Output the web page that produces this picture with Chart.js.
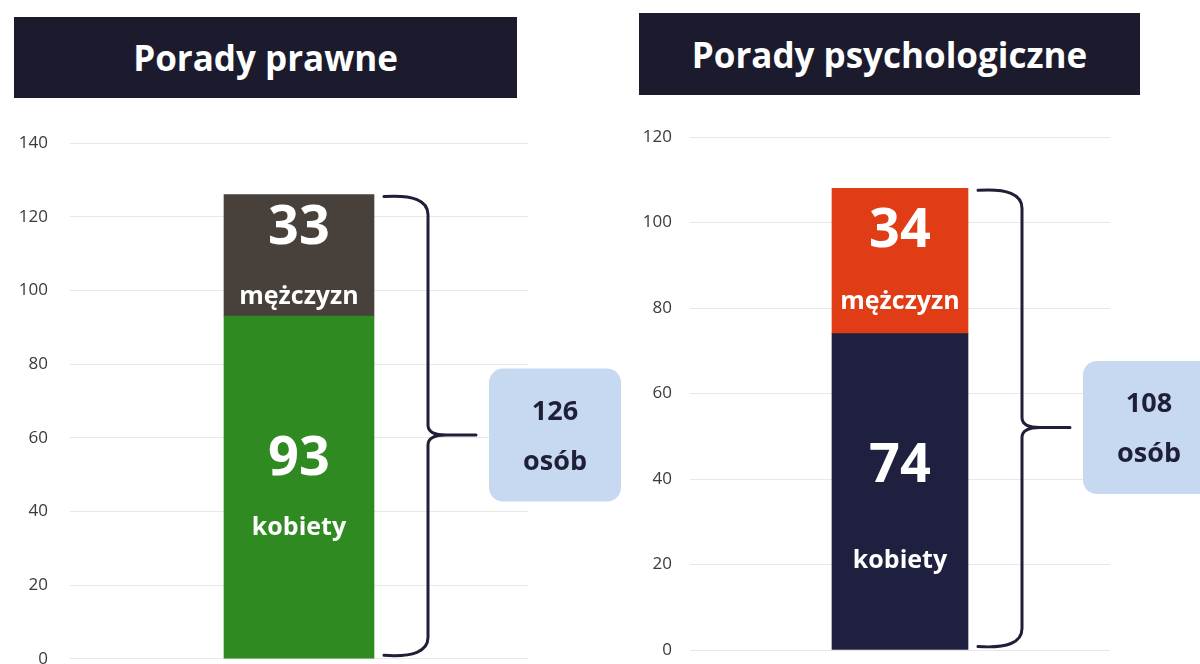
<!DOCTYPE html>
<html>
<head>
<meta charset="utf-8">
<script src="https://cdn.jsdelivr.net/npm/chart.js@4"></script>
<style>
  html, body { margin: 0; padding: 0; background: #fff; overflow: hidden; }
  body { width: 1200px; height: 664px; position: relative; font-family: "Open Sans", sans-serif; }
  .panel { position: absolute; height: 680px; }
  .naglowek {
    position: absolute; background: #1c1b2e; color: #fff;
    font-weight: bold; font-size: 35px; display: flex;
    align-items: center; justify-content: center; z-index: 2;
  }
</style>
</head>
<body>
<div class="naglowek" style="left:14px; top:17px; width:503px; height:81px;">Porady prawne</div>
<div class="naglowek" style="left:639px; top:13px; width:501px; height:82px;">Porady psychologiczne</div>

<div class="panel" style="left:0; top:11px; width:640px;"><canvas id="wykresPrawne"></canvas></div>
<div class="panel" style="left:600px; top:0; width:600px;"><canvas id="wykresPsych"></canvas></div>

<script>
// Dane
const kategorie = ['Porady'];
const kobietyPrawne = [93];
const mezczyzniPrawne = [33];
const kobietyPsych = [74];
const mezczyzniPsych = [34];
const osiPrawne = { max: 140, krok: 20 };
const osiPsych = { max: 120, krok: 20 };

const granat = '#1f2038';

// Plugin: podpisy w słupkach, klamra i ramka z sumą
const podpisyPlugin = {
  id: 'podpisy',
  afterDatasetsDraw(chart, args, opts) {
    const ctx = chart.ctx;
    const kob = chart.getDatasetMeta(0).data[0];
    const mez = chart.getDatasetMeta(1).data[0];
    ctx.save();
    ctx.fillStyle = '#fff';
    ctx.textAlign = 'center';
    ctx.textBaseline = 'middle';

    // segment mężczyzn
    let top = mez.y, h = mez.base - mez.y;
    ctx.font = 'bold 54px "Open Sans"';
    ctx.fillText(chart.data.datasets[1].data[0], mez.x, top + h * opts.mezLiczba);
    ctx.font = 'bold 25px "Open Sans"';
    ctx.fillText('mężczyzn', mez.x, top + h * opts.mezOpis);

    // segment kobiet
    top = kob.y; h = kob.base - kob.y;
    ctx.font = 'bold 54px "Open Sans"';
    ctx.fillText(chart.data.datasets[0].data[0], kob.x, top + h * opts.kobLiczba);
    ctx.font = 'bold 25px "Open Sans"';
    ctx.fillText('kobiety', kob.x, top + h * opts.kobOpis);

    // klamra
    const gora = mez.y + 2, dol = kob.base - 3;
    const srodek = gora + (dol - gora) * 0.52;
    const prawaKrawedz = mez.x + mez.width / 2;
    const x0 = prawaKrawedz + 10;
    const xv = prawaKrawedz + 54;
    const xt = prawaKrawedz + 102;
    const r = 18;
    ctx.strokeStyle = granat;
    ctx.lineWidth = 3;
    ctx.lineCap = 'round';
    ctx.beginPath();
    ctx.moveTo(x0, gora);
    ctx.quadraticCurveTo(xv, gora - 3, xv, gora + r);
    ctx.lineTo(xv, srodek - 10);
    ctx.quadraticCurveTo(xv, srodek, xt - 30, srodek);
    ctx.lineTo(xt, srodek);
    ctx.moveTo(xt - 30, srodek);
    ctx.quadraticCurveTo(xv, srodek, xv, srodek + 10);
    ctx.lineTo(xv, dol - r);
    ctx.quadraticCurveTo(xv, dol + 3, x0, dol);
    ctx.stroke();

    // ramka z sumą
    const suma = chart.data.datasets[0].data[0] + chart.data.datasets[1].data[0];
    const bx = xt + 13, bw = 132, bh = 133, by = srodek - bh / 2;
    ctx.fillStyle = '#c6d9f1';
    ctx.beginPath();
    ctx.roundRect(bx, by, bw, bh, 14);
    ctx.fill();
    ctx.fillStyle = granat;
    ctx.font = 'bold 27px "Open Sans"';
    ctx.fillText(suma, bx + bw / 2, srodek - 23);
    ctx.fillText('osób', bx + bw / 2, srodek + 27);
    ctx.restore();
  }
};

function rysujWykres(id, kobiety, mezczyzni, kolory, os, uklad, podpisy) {
  return new Chart(document.getElementById(id), {
    type: 'bar',
    data: {
      labels: kategorie,
      datasets: [
        { label: 'kobiety', data: kobiety, backgroundColor: kolory[0], barThickness: uklad.grubosc },
        { label: 'mężczyźni', data: mezczyzni, backgroundColor: kolory[1], barThickness: uklad.grubosc }
      ]
    },
    options: {
      responsive: true,
      maintainAspectRatio: false,
      animation: false,
      events: [],
      layout: { padding: { top: uklad.gora, bottom: uklad.dol, right: uklad.prawo, left: 0 } },
      plugins: {
        legend: { display: false },
        tooltip: { enabled: false },
        podpisy: podpisy
      },
      scales: {
        x: { stacked: true, display: false },
        y: {
          stacked: true,
          min: 0,
          max: os.max,
          ticks: { stepSize: os.krok, padding: uklad.odstep, color: '#3a3a3a', font: { family: 'Open Sans', size: 17 } },
          grid: { color: '#e8e8e8', drawTicks: false },
          border: { display: false },
          afterFit(scale) { scale.width = uklad.szerOsi; }
        }
      }
    },
    plugins: [podpisyPlugin]
  });
}

rysujWykres('wykresPrawne', kobietyPrawne, mezczyzniPrawne, ['#2f8a22', '#48403b'], osiPrawne,
  { gora: 132, dol: 12, prawo: 112, szerOsi: 70, odstep: 22, grubosc: 150 },
  { mezLiczba: 0.28, mezOpis: 0.84, kobLiczba: 0.42, kobOpis: 0.62 });

rysujWykres('wykresPsych', kobietyPsych, mezczyzniPsych, ['#1f2040', '#e03c16'], osiPsych,
  { gora: 137, dol: 30, prawo: 90, szerOsi: 90, odstep: 18, grubosc: 136 },
  { mezLiczba: 0.30, mezOpis: 0.78, kobLiczba: 0.42, kobOpis: 0.72 });
</script>
</body>
</html>
